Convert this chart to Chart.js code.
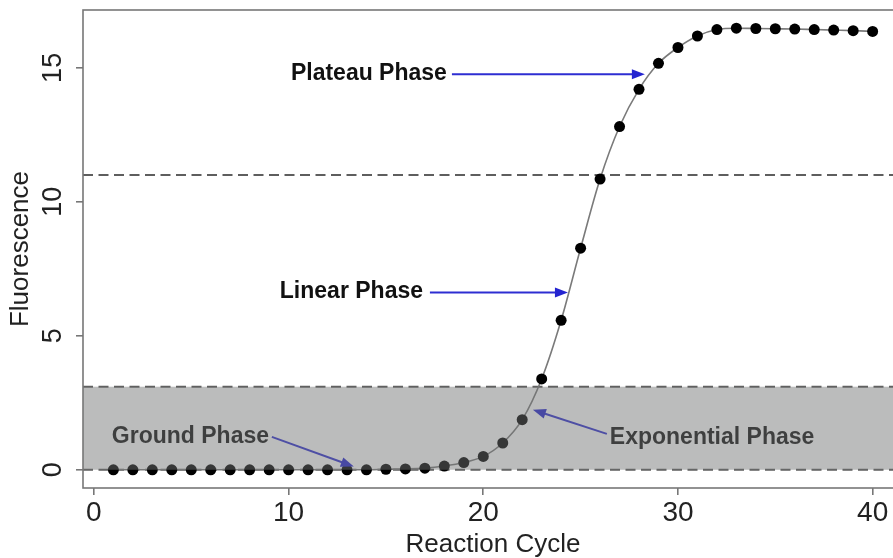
<!DOCTYPE html>
<html>
<head>
<meta charset="utf-8">
<script src="https://cdn.jsdelivr.net/npm/chart.js@4.4.0/dist/chart.umd.min.js"></script>
<style>
  html, body { margin: 0; padding: 0; background: #fff; overflow: hidden; }
  #wrap { width: 910px; height: 558px; }
</style>
</head>
<body>
<div id="wrap"><canvas id="myChart" width="910" height="558"></canvas></div>
<script>
// values
const cycles = [1, 2, 3, 4, 5, 6, 7, 8, 9, 10, 11, 12, 13, 14, 15, 16, 17, 18, 19, 20,
  21, 22, 23, 24, 25, 26, 27, 28, 29, 30, 31, 32, 33, 34, 35, 36, 37, 38, 39, 40];
const fluorescence = [0, 0, 0, 0, 0, 0, 0, 0, 0, 0, 0, 0, 0, 0, 0.02, 0.03, 0.06, 0.14, 0.27, 0.5,
  1.0, 1.87, 3.39, 5.58, 8.27, 10.85, 12.81, 14.2, 15.17, 15.76,
  16.19, 16.43, 16.48, 16.47, 16.46, 16.45, 16.43, 16.41, 16.39, 16.36];
const xTicks = [0, 10, 20, 30, 40];
const yTicks = [0, 5, 10, 15];
const baseLevel = 0;       // bottom of grey band
const thresholdLevel = 3.1; // top of grey band
const plateauLevel = 11;    // upper dashed line

const FONT = '"Liberation Sans", Arial, Helvetica, sans-serif';

// annotation labels + arrows (data coordinates)
const notes = [
  { text: 'Plateau Phase', x: 10.12, y: 14.78, ax0: 18.39, ay0: 14.76, ax1: 28.3, ay1: 14.76 },
  { text: 'Linear Phase', x: 9.55, y: 6.65, ax0: 17.26, ay0: 6.62, ax1: 24.35, ay1: 6.62 },
  { text: 'Ground Phase', x: 0.92, y: 1.24, ax0: 9.14, ay0: 1.23, ax1: 13.35, ay1: 0.12 },
  { text: 'Exponential Phase', x: 26.5, y: 1.2, ax0: 26.35, ay0: 1.34, ax1: 22.55, ay1: 2.24 }
];

function arrow(ctx, x0, y0, x1, y1) {
  const ang = Math.atan2(y1 - y0, x1 - x0);
  const len = 13, half = 5;
  ctx.beginPath();
  ctx.moveTo(x0, y0);
  ctx.lineTo(x1 - Math.cos(ang) * len * 0.8, y1 - Math.sin(ang) * len * 0.8);
  ctx.stroke();
  ctx.beginPath();
  ctx.moveTo(x1, y1);
  ctx.lineTo(x1 - Math.cos(ang) * len - Math.sin(ang) * half, y1 - Math.sin(ang) * len + Math.cos(ang) * half);
  ctx.lineTo(x1 - Math.cos(ang) * len + Math.sin(ang) * half, y1 - Math.sin(ang) * len - Math.cos(ang) * half);
  ctx.closePath();
  ctx.fill();
}

const phasePlugin = {
  id: 'phases',
  beforeDatasetsDraw(chart) {
    const { ctx, chartArea: a, scales: { y } } = chart;
    ctx.save();
    ctx.strokeStyle = '#5e5e5e';
    ctx.lineWidth = 2;
    ctx.setLineDash([10, 5.5]);
    [baseLevel, thresholdLevel, plateauLevel].forEach(v => {
      const py = y.getPixelForValue(v);
      ctx.beginPath();
      ctx.moveTo(a.left, py);
      ctx.lineTo(a.right, py);
      ctx.stroke();
    });
    ctx.restore();
  },
  afterDatasetsDraw(chart) {
    const { ctx, chartArea: a, scales: { x, y } } = chart;
    ctx.save();
    // labels and arrows
    ctx.font = 'bold 23px ' + FONT;
    ctx.textBaseline = 'middle';
    ctx.textAlign = 'left';
    ctx.strokeStyle = '#2e2ed2';
    ctx.lineWidth = 2;
    notes.forEach(n => {
      ctx.fillStyle = '#111';
      ctx.fillText(n.text, x.getPixelForValue(n.x), y.getPixelForValue(n.y));
      ctx.fillStyle = '#2424d0';
      arrow(ctx, x.getPixelForValue(n.ax0), y.getPixelForValue(n.ay0),
        x.getPixelForValue(n.ax1), y.getPixelForValue(n.ay1));
    });
    // grey band on top
    const top = y.getPixelForValue(thresholdLevel);
    const bot = y.getPixelForValue(baseLevel);
    ctx.fillStyle = 'rgba(112, 114, 114, 0.48)';
    ctx.fillRect(a.left, top, a.right - a.left, bot - top);
    // frame
    ctx.strokeStyle = '#777';
    ctx.lineWidth = 1.6;
    ctx.strokeRect(a.left, a.top, a.right - a.left, a.bottom - a.top);
    // y tick labels (rotated, as in R)
    ctx.font = '27px ' + FONT;
    ctx.fillStyle = '#222';
    ctx.textAlign = 'center';
    ctx.textBaseline = 'middle';
    yTicks.forEach(v => {
      ctx.save();
      ctx.translate(54, y.getPixelForValue(v));
      ctx.rotate(-Math.PI / 2);
      ctx.fillText(String(v), 0, 0);
      ctx.restore();
    });
    // axis titles
    ctx.font = '26px ' + FONT;
    ctx.textBaseline = 'alphabetic';
    ctx.fillText('Reaction Cycle', (a.left + a.right) / 2, 552);
    ctx.save();
    ctx.translate(28, (a.top + a.bottom) / 2);
    ctx.rotate(-Math.PI / 2);
    ctx.font = '26px ' + FONT;
    ctx.fillText('Fluorescence', 0, 0);
    ctx.restore();
    ctx.restore();
  }
};

new Chart(document.getElementById('myChart'), {
  type: 'line',
  data: {
    datasets: [{
      data: cycles.map((c, i) => ({ x: c, y: fluorescence[i] })),
      borderColor: '#7a7a7a',
      borderWidth: 1.6,
      cubicInterpolationMode: 'monotone',
      pointRadius: 5.5,
      pointBackgroundColor: '#000',
      pointBorderWidth: 0,
      fill: false
    }]
  },
  options: {
    responsive: false,
    animation: false,
    devicePixelRatio: 1,
    layout: { padding: { left: 0, top: 10, right: 7, bottom: 0 } },
    plugins: { legend: { display: false }, tooltip: { enabled: false } },
    scales: {
      x: {
        type: 'linear',
        min: -0.56,
        max: 41.56,
        afterBuildTicks: s => { s.ticks = xTicks.map(v => ({ value: v })); },
        afterFit: s => { s.height = 70; },
        grid: { drawOnChartArea: false, drawTicks: true, tickLength: 7, color: '#777', lineWidth: 1.6 },
        border: { display: false },
        ticks: { color: '#222', font: { family: FONT, size: 28 }, padding: 1, maxRotation: 0 }
      },
      y: {
        min: -0.68,
        max: 17.16,
        afterBuildTicks: s => { s.ticks = yTicks.map(v => ({ value: v })); },
        afterFit: s => { s.width = 83; },
        grid: { drawOnChartArea: false, drawTicks: true, tickLength: 7, color: '#777', lineWidth: 1.6 },
        border: { display: false },
        ticks: { color: 'rgba(0,0,0,0)', font: { family: FONT, size: 1 } }
      }
    }
  },
  plugins: [phasePlugin]
});
</script>
</body>
</html>
